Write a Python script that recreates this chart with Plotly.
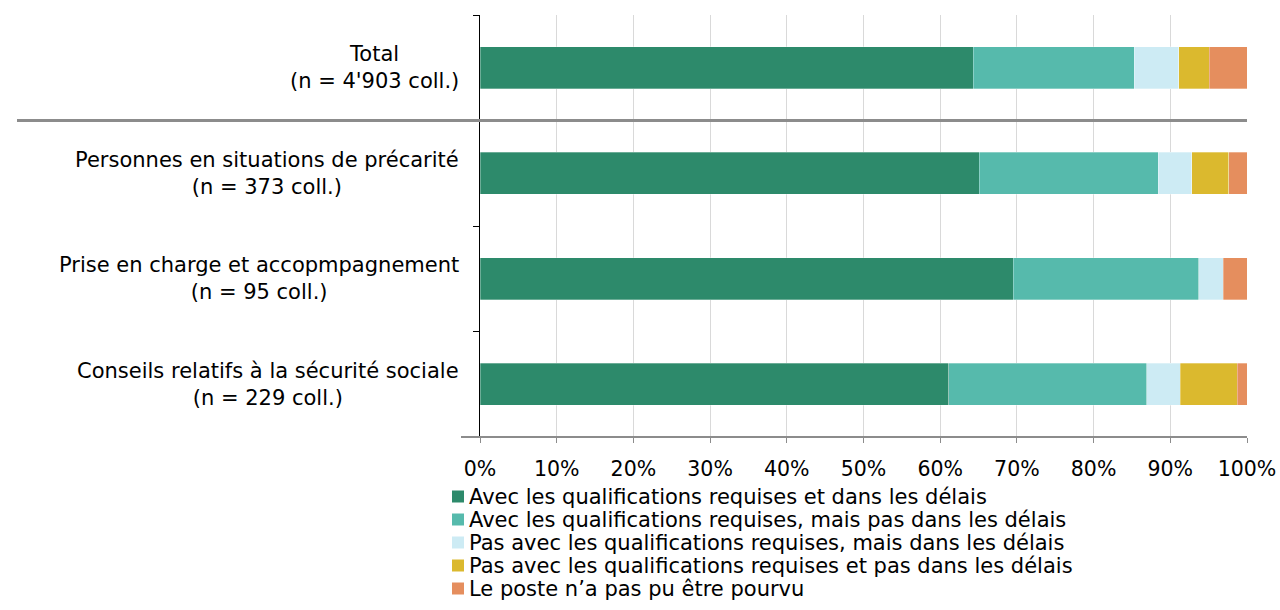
import plotly.graph_objects as go

categories = ["Total", "Personnes en situations de précarité", "Prise en charge et accopmpagnement", "Conseils relatifs à la sécurité sociale"]
label_line1 = ["Total", "Personnes en situations de précarité",
               "Prise en charge et accopmpagnement", "Conseils relatifs à la sécurité sociale"]
label_line2 = ["(n = 4'903 coll.)", "(n = 373 coll.)", "(n = 95 coll.)", "(n = 229 coll.)"]
series_names = ["Avec les qualifications requises et dans les délais",
                "Avec les qualifications requises, mais pas dans les délais",
                "Pas avec les qualifications requises, mais dans les délais",
                "Pas avec les qualifications requises et pas dans les délais",
                "Le poste n\u2019a pas pu être pourvu"]
s1 = [64.3, 65.1, 69.5, 61.1]
s2 = [21.0, 23.3, 24.2, 25.8]
s3 = [5.8, 4.4, 3.2, 4.4]
s4 = [4.0, 4.8, 0.0, 7.4]
s5 = [4.9, 2.4, 3.1, 1.3]
series_values = [s1, s2, s3, s4, s5]
colors = ["#2D8A6B", "#56BAAC", "#CDEBF4", "#DBB92E", "#E58E5E"]

FONT = "DejaVu Sans"
FS = 20.5
FS_TXT = 21
W, H = 1280, 610
L, R, T, B = 480, 33, 15, 173
pw = W - L - R
ph = H - T - B


def px_x(px):
    return (px - L) / pw


def px_y(py):
    return (H - B - py) / ph


fig = go.Figure()
for name, vals, col in zip(series_names, series_values, colors):
    fig.add_trace(go.Bar(
        y=categories, x=[v / 100 for v in vals], name=name, orientation="h",
        marker=dict(color=col, line=dict(color="rgba(255,255,255,0.6)", width=0.5)),
        showlegend=False,
    ))

annotations = []
shapes = []
for cat, l1, l2 in zip(categories, label_line1, label_line2):
    annotations.append(dict(
        x=px_x(461), xref="paper", y=cat, yref="y", text=l1 + "<br>" + l2,
        showarrow=False, xanchor="right", yanchor="middle", align="center",
        font=dict(family=FONT, size=FS_TXT, color="#000000"),
    ))

# legend (manual, to match the compact row spacing)
for i, (name, col) in enumerate(zip(series_names, colors)):
    cy = 496.5 + 23 * i
    shapes.append(dict(type="rect", xref="paper", yref="paper",
                       x0=px_x(452), x1=px_x(464), y0=px_y(cy + 6), y1=px_y(cy - 6),
                       fillcolor=col, line=dict(width=0)))
    annotations.append(dict(
        x=px_x(467), xref="paper", y=px_y(cy), yref="paper", text=name,
        showarrow=False, xanchor="left", yanchor="middle",
        font=dict(family=FONT, size=FS_TXT, color="#000000"),
    ))

shapes += [
    dict(type="line", xref="paper", yref="y", x0=px_x(17), x1=1, y0=0.5, y1=0.5,
         line=dict(color="#8C8C8C", width=3)),
    dict(type="line", xref="paper", yref="paper", x0=px_x(461), x1=1, y0=0, y1=0,
         line=dict(color="#8C8C8C", width=2)),
]

fig.update_layout(
    width=W, height=H,
    margin=dict(l=L, r=R, t=T, b=B, autoexpand=False),
    paper_bgcolor="white", plot_bgcolor="white",
    barmode="stack", bargap=0.6,
    font=dict(family=FONT, size=FS, color="#000000"),
    showlegend=False,
    annotations=annotations, shapes=shapes,
    xaxis=dict(range=[0, 1], tickformat=".0%", dtick=0.1, tick0=0,
               showgrid=True, gridcolor="#D9D9D9", gridwidth=1, zeroline=False,
               ticks="outside", ticklen=5, tickcolor="#8C8C8C",
               showline=False, tickfont=dict(family=FONT, size=FS), ticklabelstandoff=8),
    yaxis=dict(autorange="reversed", type="category", tickson="boundaries",
               showticklabels=False, ticks="outside", ticklen=6, tickcolor="#000000",
               showgrid=False, showline=True, linecolor="#000000", linewidth=1,
               zeroline=False),
)

fig.write_html("out.html", config={"displayModeBar": False},
               post_script="document.body.style.margin='0';document.body.style.overflow='hidden';")
